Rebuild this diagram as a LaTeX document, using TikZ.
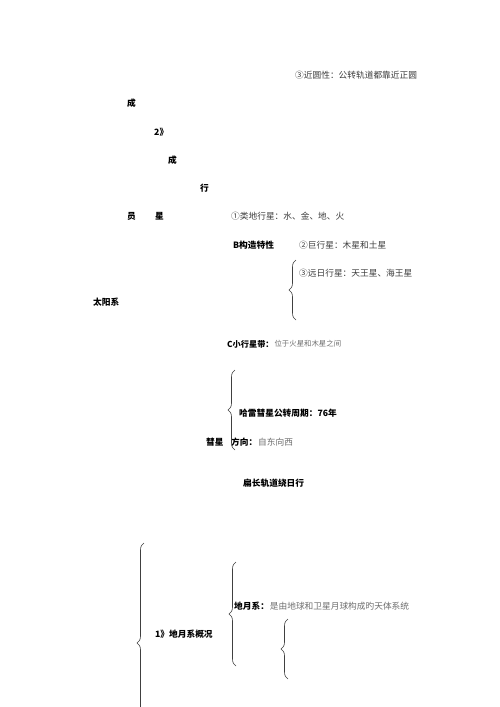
\documentclass[tikz,border=0pt]{standalone}
\usepackage{fontspec}
\setmainfont{Noto Sans CJK SC}
\usetikzlibrary{decorations.pathreplacing}
\definecolor{txtdark}{RGB}{60,60,60}
\definecolor{txtlight}{RGB}{110,110,110}
\tikzset{
  lbl/.style={anchor=west, inner sep=0pt, font=\fontsize{8.7}{10}\selectfont},
  hd/.style={lbl, font=\fontsize{8.7}{10}\selectfont\bfseries, text=black},
  dk/.style={lbl, text=txtdark},
  lt/.style={lbl, text=txtlight},
  sm/.style={lbl, text=txtlight, font=\fontsize{7.4}{9}\selectfont},
  crl/.style={draw=black!75, line width=0.6pt, decorate, decoration={brace, amplitude=7pt}}
}
\begin{document}
\begin{tikzpicture}[x=1pt, y=-1pt]
\useasboundingbox (0,0) rectangle (500,707);
\clip (0,0) rectangle (500,707);
\fill[white] (0,0) rectangle (500,707);
\node[dk] (t1) at (295,75) {③近圆性：公转轨道都靠近正圆};
\node[hd] (c1) at (127,103) {成};
\node[hd] (n2) at (154,132) {2》};
\node[hd] (c2) at (168,160) {成};
\node[hd] (h1) at (200,188) {行};
\node[hd] (y1) at (127,216) {员};
\node[hd] (x1) at (155,216) {星};
\node[dk] (p1) at (231,216) {①类地行星：水、金、地、火};
\node[hd] (b1) at (233,245) {B构造特性};
\node[dk] (p2) at (299,245) {②巨行星：木星和土星};
\node[dk] (p3) at (299,273) {③远日行星：天王星、海王星};
\node[hd] (sun) at (93,302) {太阳系};
\node[hd, font=\fontsize{8.2}{10}\selectfont\bfseries] (cc) at (227,344) {C小行星带：};
\node[sm, anchor=west] (cd) at ([xshift=0.5pt]cc.east) {位于火星和木星之间};
\node[hd] (hl) at (239,413) {哈雷彗星公转周期：76年};
\node[hd] (hx) at (206,442) {彗星};
\node[hd] (fx) at (231,442) {方向：};
\node[lt, anchor=west] (fd) at ([xshift=0.5pt]fx.east) {自东向西};
\node[hd] (bc) at (243,483) {扁长轨道绕日行};
\node[hd] (dy) at (234,606) {地月系：};
\node[lt, anchor=west] (dd) at ([xshift=0.5pt]dy.east) {是由地球和卫星月球构成旳天体系统};
\node[hd] (gk) at (155,634) {1》地月系概况};
% braces
\coordinate (b1t) at (296,260); \coordinate (b1b) at (296,320);
\draw[crl] (b1b) -- (b1t);
\coordinate (b2t) at (235,370); \coordinate (b2b) at (235,450);
\draw[crl] (b2b) -- (b2t);
\coordinate (b3t) at (144,543); \coordinate (b3b) at (144,743);
\draw[crl] (b3b) -- (b3t);
\coordinate (b4t) at (236,562); \coordinate (b4b) at (236,666);
\draw[crl] (b4b) -- (b4t);
\coordinate (b5t) at (288,619); \coordinate (b5b) at (288,679);
\draw[crl] (b5b) -- (b5t);
\end{tikzpicture}
\end{document}
